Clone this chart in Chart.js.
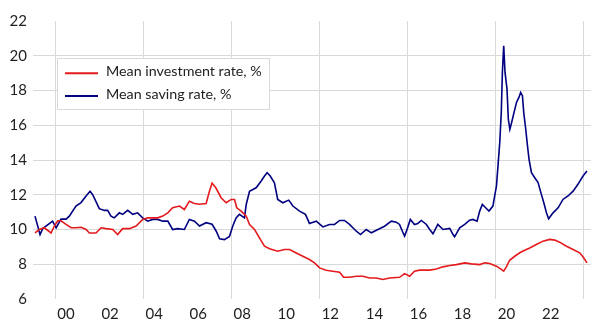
<!DOCTYPE html>
<html>
<head>
<meta charset="utf-8">
<script src="https://cdn.jsdelivr.net/npm/chart.js@4"></script>
<style>
  html, body { margin: 0; padding: 0; background: #fff; }
  #wrap { width: 608px; height: 336px; position: relative; }
</style>
</head>
<body>
<div id="wrap"><canvas id="myChart" width="608" height="336"></canvas></div>
<script>
// Series (decimal years)
var investYears = [1999.09,1999.29,1999.51,1999.82,1999.97,2000.12,2000.27,2000.50,2000.73,2000.95,
  2001.18,2001.41,2001.56,2001.86,2002.09,2002.32,2002.62,2002.84,2003.07,2003.38,
  2003.68,2003.98,2004.21,2004.43,2004.66,2004.89,2005.12,2005.34,2005.65,2005.87,
  2006.10,2006.33,2006.56,2006.86,2007.01,2007.13,2007.30,2007.54,2007.77,2008.00,
  2008.15,2008.25,2008.45,2008.68,2008.83,2009.06,2009.28,2009.51,2009.74,2010.11,
  2010.42,2010.65,2010.95,2011.25,2011.55,2011.78,2012.01,2012.31,2012.61,2012.92,
  2013.10,2013.37,2013.68,2013.98,2014.28,2014.58,2014.88,2015.19,2015.64,2015.87,
  2016.10,2016.32,2016.55,2017.01,2017.31,2017.61,2017.92,2018.22,2018.60,2018.90,
  2019.28,2019.51,2019.73,2020.04,2020.23,2020.37,2020.49,2020.64,2020.87,2021.10,
  2021.32,2021.55,2021.85,2022.15,2022.46,2022.69,2022.91,2023.22,2023.52,2023.82,
  2024.00,2024.15];
var investRate = [9.81,10.0,10.1,9.8,10.2,10.5,10.5,10.3,10.1,10.1,
  10.13,10.0,9.8,9.8,10.1,10.05,10.0,9.71,10.05,10.05,
  10.2,10.58,10.67,10.67,10.67,10.77,10.96,11.25,11.35,11.15,
  11.63,11.5,11.45,11.5,12.2,12.67,12.4,11.83,11.54,11.73,
  11.73,11.25,11.06,10.77,10.29,10.0,9.52,9.04,8.89,8.75,
  8.85,8.85,8.65,8.46,8.27,8.08,7.79,7.65,7.6,7.54,
  7.25,7.25,7.31,7.31,7.21,7.21,7.12,7.21,7.25,7.46,
  7.31,7.6,7.66,7.66,7.73,7.85,7.93,7.98,8.08,8.02,
  7.98,8.08,8.04,7.89,7.73,7.6,7.85,8.23,8.46,8.66,
  8.81,8.94,9.14,9.33,9.43,9.39,9.27,9.04,8.85,8.66,
  8.37,8.08];

var savingYears = [1999.09,1999.32,1999.44,1999.89,2000.05,2000.27,2000.50,2000.65,2000.95,2001.18,
  2001.41,2001.59,2001.71,2001.86,2002.01,2002.24,2002.39,2002.54,2002.69,2002.92,
  2003.07,2003.30,2003.53,2003.75,2003.98,2004.21,2004.43,2004.66,2004.89,2005.12,
  2005.34,2005.57,2005.87,2006.10,2006.33,2006.56,2006.86,2007.13,2007.32,2007.47,
  2007.69,2007.92,2008.07,2008.22,2008.37,2008.60,2008.68,2008.83,2009.13,2009.36,
  2009.51,2009.63,2009.77,2009.96,2010.11,2010.34,2010.61,2010.80,2011.10,2011.37,
  2011.55,2011.86,2012.16,2012.46,2012.69,2012.92,2013.14,2013.37,2013.68,2013.87,
  2014.13,2014.36,2014.66,2014.96,2015.27,2015.49,2015.64,2015.77,2015.87,2015.98,
  2016.13,2016.32,2016.47,2016.63,2016.86,2017.01,2017.16,2017.38,2017.61,2017.92,
  2018.07,2018.14,2018.37,2018.60,2018.82,2018.97,2019.16,2019.28,2019.40,2019.55,
  2019.70,2019.88,2019.96,2020.04,2020.11,2020.19,2020.26,2020.31,2020.37,2020.43,
  2020.52,2020.58,2020.65,2020.73,2020.82,2020.95,2021.06,2021.14,2021.22,2021.28,
  2021.37,2021.45,2021.52,2021.63,2021.78,2021.93,2022.08,2022.19,2022.31,2022.41,
  2022.61,2022.84,2023.06,2023.29,2023.52,2023.74,2023.97,2024.15];
var savingRate = [10.77,9.71,10.05,10.48,10.1,10.6,10.6,10.77,11.35,11.55,
  11.93,12.2,12.0,11.6,11.2,11.1,11.1,10.77,10.67,10.96,
  10.87,11.1,10.87,10.96,10.67,10.48,10.58,10.58,10.48,10.48,
  10.0,10.05,10.0,10.58,10.48,10.2,10.39,10.3,9.9,9.46,
  9.42,9.6,10.2,10.67,10.87,10.67,11.44,12.2,12.4,12.79,
  13.08,13.27,13.08,12.69,11.73,11.54,11.69,11.35,11.06,10.87,
  10.35,10.48,10.15,10.29,10.29,10.52,10.52,10.29,9.9,9.71,
  10.0,9.81,10.0,10.19,10.48,10.42,10.29,9.9,9.62,10.0,
  10.58,10.29,10.35,10.52,10.29,10.0,9.75,10.29,10.0,10.06,
  9.71,9.58,10.1,10.29,10.54,10.58,10.48,11.06,11.44,11.25,
  11.06,11.35,11.93,12.5,13.66,15.0,16.73,19.04,20.58,19.04,
  18.08,16.35,15.77,16.16,16.64,17.31,17.6,17.89,17.7,16.73,
  15.77,14.81,14.04,13.27,12.98,12.7,12.02,11.54,10.96,10.62,
  10.96,11.25,11.73,11.93,12.21,12.6,13.08,13.37];

var seriesNames = ["Mean investment rate, %", "Mean saving rate, %"];
var seriesColors = ["#e41a1c", "#000080"];

// x axis: gridlines every 4 years, labels mid-year every 2 years
var gridYears = [2000, 2004, 2008, 2012, 2016, 2020, 2024];
var labelYears = [2000.5, 2002.5, 2004.5, 2006.5, 2008.5, 2010.5, 2012.5, 2014.5, 2016.5, 2018.5, 2020.5, 2022.5];
var xTickLabels = ["00", "02", "04", "06", "08", "10", "12", "14", "16", "18", "20", "22"];
var yTicks = [6, 8, 10, 12, 14, 16, 18, 20, 22];

function pairs(xs, ys) {
  return xs.map(function (x, i) { return { x: x, y: ys[i] }; });
}

var FONT = "Lato, 'Open Sans', sans-serif";
var TEXT = "#222222";
var GRID = "#d9d9d9";

// legend box drawn inside the plot
var boxLegend = {
  id: "boxLegend",
  afterDraw: function (chart) {
    var ctx = chart.ctx;
    var x0 = 57.5, y0 = 58.5, w = 212, h = 51;
    ctx.save();
    ctx.fillStyle = "#ffffff";
    ctx.fillRect(x0, y0, w, h);
    ctx.strokeStyle = GRID;
    ctx.lineWidth = 1;
    ctx.strokeRect(x0, y0, w, h);
    var rows = [73.3, 96];
    chart.data.datasets.forEach(function (ds, i) {
      ctx.strokeStyle = ds.borderColor;
      ctx.lineWidth = 2;
      ctx.beginPath();
      ctx.moveTo(65, rows[i]);
      ctx.lineTo(98, rows[i]);
      ctx.stroke();
      ctx.fillStyle = TEXT;
      ctx.font = "14.3px " + FONT;
      ctx.textBaseline = "middle";
      ctx.textAlign = "left";
      ctx.fillText(ds.label, 106, rows[i] - 1.5);
    });
    ctx.restore();
  }
};

new Chart("myChart", {
  type: "line",
  data: {
    datasets: [{
      label: seriesNames[0],
      data: pairs(investYears, investRate),
      borderColor: seriesColors[0],
      borderWidth: 1.6,
      pointRadius: 0,
      tension: 0
    }, {
      label: seriesNames[1],
      data: pairs(savingYears, savingRate),
      borderColor: seriesColors[1],
      borderWidth: 1.6,
      pointRadius: 0,
      tension: 0
    }]
  },
  options: {
    responsive: false,
    animation: false,
    layout: { padding: { left: 0, right: 17, top: 21, bottom: 0 } },
    plugins: {
      legend: { display: false },
      tooltip: { enabled: false }
    },
    scales: {
      x: {
        type: "linear",
        min: 1999,
        max: 2024.333,
        afterBuildTicks: function (s) {
          var all = gridYears.concat(labelYears).sort(function (a, b) { return a - b; });
          s.ticks = all.map(function (v) { return { value: v }; });
        },
        afterFit: function (s) { s.height = 37; },
        border: { display: false },
        grid: {
          drawTicks: false,
          color: function (c) {
            return (c.tick && gridYears.indexOf(c.tick.value) >= 0) ? GRID : "transparent";
          },
          lineWidth: 1
        },
        ticks: {
          autoSkip: false,
          maxRotation: 0,
          padding: 6,
          color: TEXT,
          font: { family: FONT, size: 15 },
          callback: function (v) {
            var k = labelYears.indexOf(v);
            return k >= 0 ? xTickLabels[k] : "";
          }
        }
      },
      y: {
        min: 6,
        max: 22,
        afterBuildTicks: function (s) {
          s.ticks = yTicks.map(function (v) { return { value: v }; });
        },
        afterFit: function (s) { s.width = 33; },
        border: { display: false },
        grid: {
          drawTicks: false,
          color: function (c) {
            return (c.tick && (c.tick.value === 6 || c.tick.value === 22)) ? "transparent" : GRID;
          },
          lineWidth: 1
        },
        ticks: {
          padding: 6,
          color: TEXT,
          font: { family: FONT, size: 15 }
        }
      }
    }
  },
  plugins: [boxLegend]
});
</script>
</body>
</html>
